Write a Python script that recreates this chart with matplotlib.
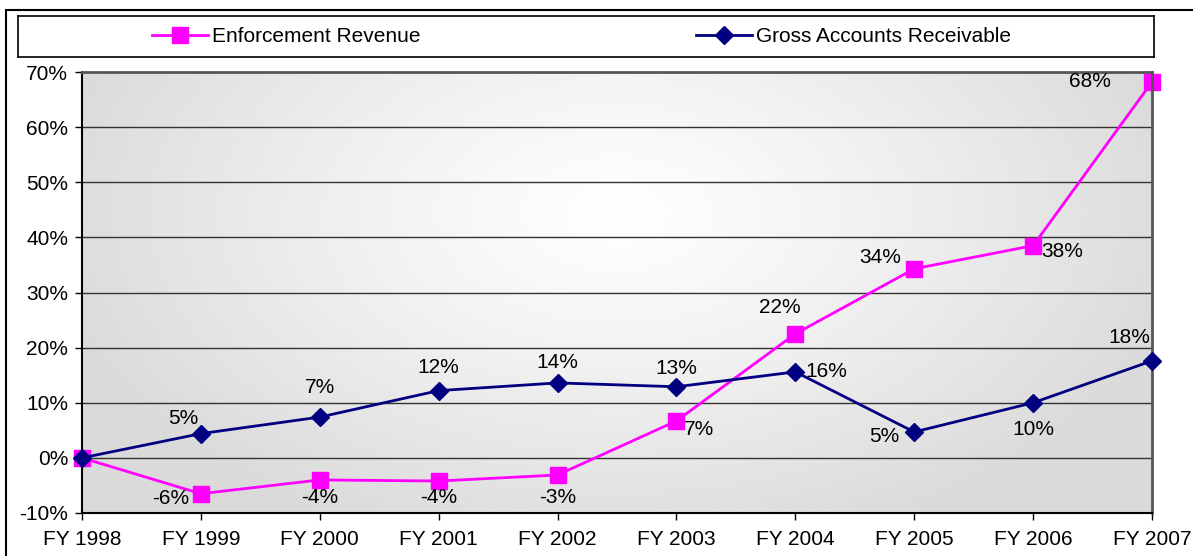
import numpy as np
import matplotlib
matplotlib.use("Agg")
import matplotlib.pyplot as plt
from matplotlib.patches import Rectangle

plt.rcParams['font.family'] = ['Liberation Sans', 'DejaVu Sans']

years = ["FY 1998", "FY 1999", "FY 2000", "FY 2001", "FY 2002",
         "FY 2003", "FY 2004", "FY 2005", "FY 2006", "FY 2007"]
enforcement = [0.0, -6.5, -4.0, -4.2, -3.1, 6.7, 22.5, 34.3, 38.5, 68.2]
enforcement_labels = ["", "-6%", "-4%", "-4%", "-3%", "7%", "22%", "34%", "38%", "68%"]
receivable = [0.0, 4.4, 7.4, 12.2, 13.6, 12.9, 15.6, 4.7, 10.0, 17.6]
receivable_labels = ["", "5%", "7%", "12%", "14%", "13%", "16%", "5%", "10%", "18%"]
yticks = [-10, 0, 10, 20, 30, 40, 50, 60, 70]

FS = 15
W, H = 1193, 556
fig = plt.figure(figsize=(W / 100, H / 100), dpi=100)

# outer frame
fig.patches.append(Rectangle((6 / W, -0.2), 1.2, 1 - 10 / H + 0.2, transform=fig.transFigure,
                             fill=False, edgecolor='black', linewidth=1.5, zorder=0))

ax = fig.add_axes([82 / W, 1 - 513 / H, (1152 - 82) / W, (513 - 72) / H])
x = np.arange(len(years))

# gradient background
gx, gy = np.meshgrid(np.linspace(0, 1, 400), np.linspace(0, 1, 200))
t = np.sqrt(((gx - 0.5) / 0.55) ** 2 + ((gy - 0.68) / 0.8) ** 2)
t = np.clip(t, 0, 1) ** 1.2
lo, hi = 0.855, 1.0
val = hi * (1 - t) + lo * t
img = np.dstack([val, val, val])
ax.imshow(img, extent=[0, 1, 0, 1], origin='lower', transform=ax.transAxes,
          aspect='auto', zorder=0, interpolation='bilinear')

ax.set_xlim(0, len(years) - 1)
ax.set_ylim(-10, 70)
ax.set_yticks(yticks)
ax.set_yticklabels([f"{v}%" for v in yticks], fontsize=FS)
ax.set_xticks(x)
ax.set_xticklabels(years, fontsize=FS)
ax.tick_params(axis='both', direction='out', length=5, width=1, colors='black', pad=5)
ax.tick_params(axis='x', pad=7)
for v in yticks[1:-1]:
    ax.axhline(v, color='#333333', linewidth=1, zorder=1)

for s in ['left', 'bottom']:
    ax.spines[s].set_color('black')
    ax.spines[s].set_linewidth(1.5)
for s in ['top', 'right']:
    ax.spines[s].set_color('#555555')
    ax.spines[s].set_linewidth(2)

ln_r, = ax.plot(x, receivable, color='#000080', linewidth=2, marker='D', markersize=9,
                markerfacecolor='#000080', markeredgecolor='#000080', zorder=3, clip_on=False)
ln_e, = ax.plot(x, enforcement, color='#ff00ff', linewidth=2, marker='s', markersize=11,
                markerfacecolor='#ff00ff', markeredgecolor='#ff00ff', zorder=2, clip_on=False)

# data labels (offsets in points)
r_off = [None, (-13, 11), (0, 21), (0, 16.5), (0, 14.5), (0, 13), (22, 0), (-21.5, -3.5),
         (0, -19.5), (-16, 16.5)]
e_off = [None, (-21.5, -3.5), (0, -13), (0, -12), (0, -16.5), (16.5, -6.5), (-11, 19),
         (-24.5, 8), (21, -4.5), (-45, 0)]
for i in range(len(years)):
    if r_off[i] is not None:
        dx, dy = r_off[i]
        ax.annotate(receivable_labels[i], (x[i], receivable[i]), xytext=(dx, dy),
                    textcoords='offset points', ha='center', va='center', fontsize=FS, zorder=4)
    if e_off[i] is not None:
        dx, dy = e_off[i]
        ax.annotate(enforcement_labels[i], (x[i], enforcement[i]), xytext=(dx, dy),
                    textcoords='offset points', ha='center', va='center', fontsize=FS, zorder=4)

# legend box
lax = fig.add_axes([18 / W, 1 - 57 / H, (1154 - 18) / W, (57 - 16) / H])
lax.set_xticks([]); lax.set_yticks([])
for s in lax.spines.values():
    s.set_color('black'); s.set_linewidth(1.2)
lg1 = lax.legend(handles=[ln_e], labels=["Enforcement Revenue"], loc='center left',
                 bbox_to_anchor=((152 - 18) / (1154 - 18), 0.5), frameon=False, fontsize=FS,
                 handlelength=2.7, handletextpad=0.2, borderaxespad=0, borderpad=0)
lax.add_artist(lg1)
lg2 = lax.legend(handles=[ln_r], labels=["Gross Accounts Receivable"], loc='center left',
                 bbox_to_anchor=((696 - 18) / (1154 - 18), 0.5), frameon=False, fontsize=FS,
                 handlelength=2.7, handletextpad=0.2, borderaxespad=0, borderpad=0)

fig.savefig("out.png", dpi=100)
